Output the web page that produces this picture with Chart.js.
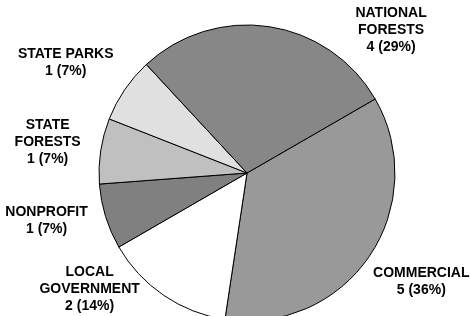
<!DOCTYPE html>
<html>
<head>
  <title>Ownership pie</title>
  <script src="https://cdn.jsdelivr.net/npm/chart.js"></script>
  <style>
    html, body { margin: 0; padding: 0; background: #fff; overflow: hidden; }
    #wrap { width: 470px; height: 316px; }
  </style>
</head>
<body>
  <div id="wrap"><canvas id="pie"></canvas></div>

  <script>
    // slice data, clockwise starting at the commercial/national boundary
    const categories = ['COMMERCIAL', 'LOCAL\nGOVERNMENT', 'NONPROFIT', 'STATE\nFORESTS', 'STATE PARKS', 'NATIONAL\nFORESTS'];
    const counts = [5, 2, 1, 1, 1, 4];
    const percents = [36, 14, 7, 7, 7, 29];

    const sliceColors = ['#999999', '#ffffff', '#808080', '#c0c0c0', '#e0e0e0', '#878787'];
    // label nudge from the slice's outer edge midpoint
    const labelNudge = [[52, 25], [-74, -6], [-59, 4], [-53, -9], [-59, -27], [122, 3]];

    // draws the outside labels next to each arc
    const outsideLabels = {
      id: 'outsideLabels',
      afterDatasetsDraw(chart) {
        const ctx = chart.ctx;
        const arcs = chart.getDatasetMeta(0).data;
        ctx.save();
        ctx.font = 'bold 14px "Liberation Sans", Arial, sans-serif';
        ctx.fillStyle = '#000';
        ctx.textAlign = 'center';
        ctx.textBaseline = 'middle';
        arcs.forEach((arc, i) => {
          const p = arc.getProps(['x', 'y', 'startAngle', 'endAngle', 'outerRadius'], true);
          const mid = (p.startAngle + p.endAngle) / 2;
          const x = p.x + Math.cos(mid) * p.outerRadius + labelNudge[i][0];
          const y = p.y + Math.sin(mid) * p.outerRadius + labelNudge[i][1];
          const lines = categories[i].split('\n');
          lines.push(counts[i] + ' (' + percents[i] + '%)');
          const lh = 17;
          const top = y - (lines.length - 1) * lh / 2;
          lines.forEach((t, j) => ctx.fillText(t, x, top + j * lh));
        });
        ctx.restore();
      }
    };

    new Chart(document.getElementById('pie'), {
      type: 'pie',
      data: {
        labels: categories,
        datasets: [{
          data: counts,
          backgroundColor: sliceColors,
          borderColor: '#000',
          borderWidth: 1,
          radius: 148,
          clip: false
        }]
      },
      options: {
        responsive: true,
        maintainAspectRatio: false,
        animation: false,
        rotation: 60,
        layout: { padding: { left: 24, right: 0, top: 30, bottom: 0 } },
        plugins: {
          legend: { display: false },
          tooltip: { enabled: false }
        }
      },
      plugins: [outsideLabels]
    });
  </script>
</body>
</html>
